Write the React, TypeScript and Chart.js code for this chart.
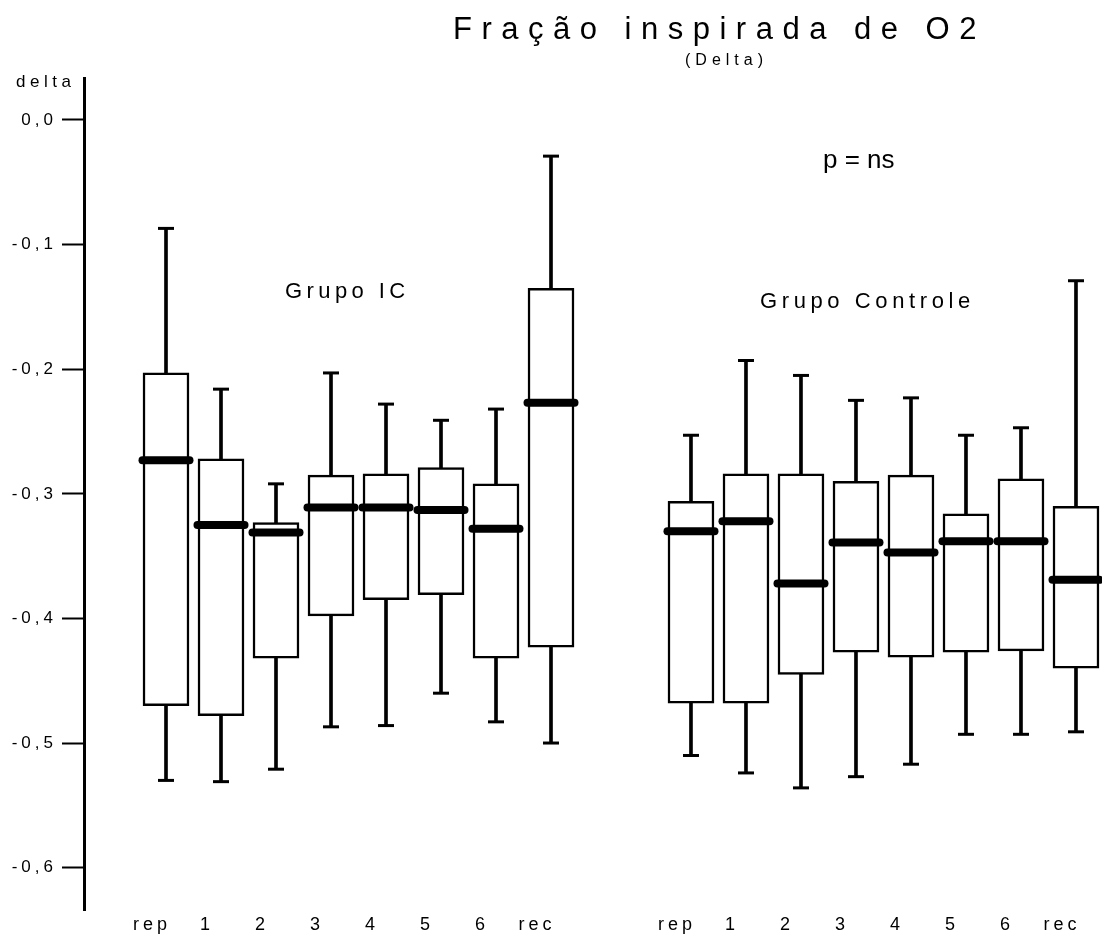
import React, { useEffect, useRef } from 'react';
import { Chart, registerables } from 'chart.js';

Chart.register(...registerables);

// ---------- data ----------
const categories = ['rep', '1', '2', '3', '4', '5', '6', 'rec'];
const groupNames = ['Grupo IC', 'Grupo Controle'];

const icMax = [-0.087, -0.216, -0.292, -0.203, -0.228, -0.241, -0.232, -0.029];
const icQ3 = [-0.203, -0.272, -0.323, -0.285, -0.284, -0.279, -0.292, -0.135];
const icMedian = [-0.273, -0.325, -0.331, -0.311, -0.311, -0.313, -0.328, -0.227];
const icQ1 = [-0.47, -0.478, -0.432, -0.398, -0.385, -0.381, -0.432, -0.423];
const icMin = [-0.53, -0.531, -0.521, -0.487, -0.486, -0.46, -0.483, -0.5];

const ctrlMax = [-0.253, -0.193, -0.205, -0.225, -0.223, -0.253, -0.247, -0.129];
const ctrlQ3 = [-0.306, -0.284, -0.284, -0.29, -0.285, -0.316, -0.288, -0.31];
const ctrlMedian = [-0.33, -0.322, -0.372, -0.339, -0.347, -0.338, -0.338, -0.369];
const ctrlQ1 = [-0.468, -0.468, -0.445, -0.427, -0.431, -0.427, -0.426, -0.44];
const ctrlMin = [-0.51, -0.524, -0.536, -0.527, -0.517, -0.493, -0.493, -0.491];

const yTickValues = [0, -0.1, -0.2, -0.3, -0.4, -0.5, -0.6];
const yTickLabels = ['0,0', '-0,1', '-0,2', '-0,3', '-0,4', '-0,5', '-0,6'];

const titleText = 'Fração inspirada de O2';
const subtitleText = '(Delta)';
const axisLabelText = 'delta';
const pValueText = 'p = ns';

// ---------- layout constants ----------
const FONT = '"Liberation Sans", Arial, sans-serif';
const CTRL_OFFSET = 9.545; // slot of the control group's first box
const X_MIN = -1.4909;
const X_MAX = 17.018;
const Y_MIN = -0.634;
const Y_MAX = 0.0337;

const groupStats = [
  { min: icMin, q1: icQ1, med: icMedian, q3: icQ3, max: icMax },
  { min: ctrlMin, q1: ctrlQ1, med: ctrlMedian, q3: ctrlQ3, max: ctrlMax },
];

const xOf = (g: number, i: number) => g * CTRL_OFFSET + i;
const xTickValues = groupNames.flatMap((_, g) => categories.map((_, i) => xOf(g, i)));
const xTickLabels = groupNames.flatMap(() => categories);

function buildDatasets() {
  const whiskers: any[] = [];
  const boxes: any[] = [];
  const medians: any[] = [];
  const caps: any[] = [];
  groupStats.forEach((s, g) => {
    categories.forEach((_, i) => {
      const x = xOf(g, i);
      whiskers.push({ x, y: [s.min[i], s.max[i]] });
      boxes.push({ x, y: [s.q1[i], s.q3[i]] });
      medians.push({ x, y: s.med[i] });
      caps.push({ x, y: s.min[i] }, { x, y: s.max[i] });
    });
  });
  return { whiskers, boxes, medians, caps };
}

const annotationPlugin = {
  id: 'annotations',
  beforeDraw(chart: any) {
    chart.ctx.letterSpacing = '4px';
  },
  beforeDatasetDraw(chart: any, args: any) {
    if (chart.data.datasets[args.index].label === 'median') chart.ctx.lineCap = 'round';
  },
  afterDatasetDraw(chart: any) {
    chart.ctx.lineCap = 'butt';
  },
  afterDraw(chart: any) {
    const ctx = chart.ctx;
    const xs = chart.scales.x;
    const ys = chart.scales.y;
    ctx.save();
    ctx.fillStyle = '#000';
    ctx.textBaseline = 'alphabetic';
    ctx.textAlign = 'left';
    const draw = (text: string, px: number, py: number, size: number, spacing: number) => {
      ctx.font = `${size}px ${FONT}`;
      ctx.letterSpacing = `${spacing}px`;
      ctx.fillText(text, px, py);
    };
    draw(titleText, 453, 39, 31, 9.5);
    draw(subtitleText, 685, 64.5, 16, 5);
    draw(axisLabelText, 16, 87, 17, 4.5);
    draw(pValueText, xs.getPixelForValue(11.945), ys.getPixelForValue(-0.0385), 26, 0);
    draw(groupNames[0], xs.getPixelForValue(2.164), ys.getPixelForValue(-0.1429), 22, 4.4);
    draw(groupNames[1], xs.getPixelForValue(10.8), ys.getPixelForValue(-0.151), 22, 4.6);
    ctx.restore();
    ctx.letterSpacing = '0px';
  },
};

export default function App() {
  const canvasRef = useRef<HTMLCanvasElement | null>(null);

  useEffect(() => {
    if (!canvasRef.current) return;
    const { whiskers, boxes, medians, caps } = buildDatasets();
    const chart = new Chart(canvasRef.current, {
      type: 'scatter',
      data: {
        datasets: [
          {
            type: 'bar',
            label: 'whisker',
            data: whiskers,
            backgroundColor: '#000',
            borderWidth: 0,
            barThickness: 3,
            grouped: false,
            order: 4,
          } as any,
          {
            type: 'bar',
            label: 'box',
            data: boxes,
            backgroundColor: '#fff',
            borderColor: '#000',
            borderWidth: 2.5,
            borderSkipped: false,
            barThickness: 46,
            grouped: false,
            order: 3,
          } as any,
          {
            type: 'scatter',
            label: 'cap',
            data: caps,
            pointStyle: 'line',
            pointRadius: 8,
            pointHoverRadius: 8,
            pointBorderColor: '#000',
            pointBackgroundColor: '#000',
            pointBorderWidth: 3,
            pointHoverBorderWidth: 3,
            order: 2,
          } as any,
          {
            type: 'scatter',
            label: 'median',
            data: medians,
            pointStyle: 'line',
            pointRadius: 23.5,
            pointHoverRadius: 23.5,
            pointBorderColor: '#000',
            pointBackgroundColor: '#000',
            pointBorderWidth: 8,
            pointHoverBorderWidth: 8,
            order: 1,
          } as any,
        ],
      },
      options: {
        animation: false,
        responsive: false,
        devicePixelRatio: 1,
        events: [],
        layout: { autoPadding: false, padding: { top: 78, right: 0, bottom: 0, left: 0 } },
        plugins: {
          legend: { display: false },
          tooltip: { enabled: false },
          title: { display: false },
        },
        scales: {
          x: {
            type: 'linear',
            min: X_MIN,
            max: X_MAX,
            offset: false,
            grid: { display: false, drawTicks: false },
            border: { display: false },
            afterBuildTicks: (s: any) => {
              s.ticks = xTickValues.map((v) => ({ value: v }));
            },
            afterFit: (s: any) => {
              s.height = 25;
            },
            ticks: {
              autoSkip: false,
              maxRotation: 0,
              minRotation: 0,
              padding: 4,
              labelOffset: -14,
              color: '#000',
              font: { family: FONT, size: 18 },
              callback: (v: any) => {
                const k = xTickValues.findIndex((t) => Math.abs(t - Number(v)) < 1e-6);
                return k >= 0 ? xTickLabels[k] : '';
              },
            },
          },
          y: {
            type: 'linear',
            min: Y_MIN,
            max: Y_MAX,
            afterBuildTicks: (s: any) => {
              s.ticks = yTickValues.map((v) => ({ value: v }));
            },
            afterFit: (s: any) => {
              s.width = 84;
            },
            grid: {
              drawOnChartArea: false,
              drawTicks: true,
              tickLength: 22,
              tickWidth: 2,
              tickColor: '#000',
            },
            border: { display: true, color: '#000', width: 3 },
            ticks: {
              padding: 5,
              color: '#000',
              font: { family: FONT, size: 17 },
              callback: (v: any) => {
                const k = yTickValues.findIndex((t) => Math.abs(t - Number(v)) < 1e-6);
                return k >= 0 ? yTickLabels[k] : '';
              },
            },
          },
        },
      } as any,
      plugins: [annotationPlugin as any],
    });
    return () => chart.destroy();
  }, []);

  return (
    <div
      style={{
        position: 'fixed',
        left: 0,
        top: 0,
        width: '1102px',
        height: '935px',
        background: '#fff',
      }}
    >
      <canvas ref={canvasRef} width={1102} height={935} style={{ display: 'block' }} />
    </div>
  );
}
